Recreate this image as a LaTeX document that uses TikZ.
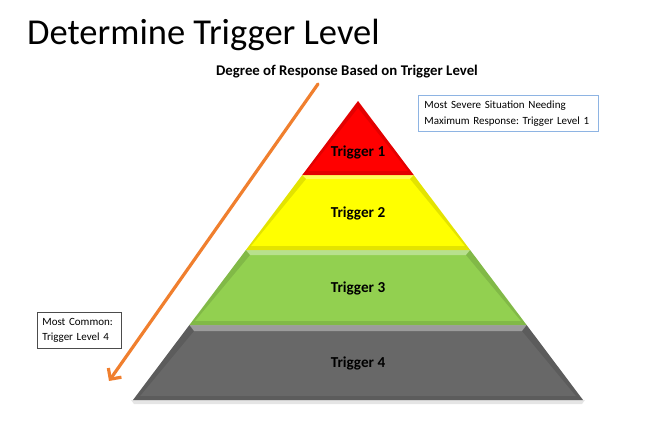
\documentclass[tikz,border=0pt]{standalone}
\usepackage{fontspec}
\setmainfont{Carlito}
\usetikzlibrary{arrows.meta}
\definecolor{tred}{HTML}{FF0000}
\definecolor{tyellow}{HTML}{FFFF00}
\definecolor{tgreen}{HTML}{92D050}
\definecolor{tgray}{HTML}{686868}
\definecolor{torange}{HTML}{F07F2E}
\definecolor{tblue}{HTML}{8EB4E3}
\frenchspacing
\tikzset{
  lbl/.style={font=\bfseries\fontsize{15.2}{16}\selectfont, text=black, inner sep=0pt},
  note/.style={draw, line width=0.9pt, fill=white, align=left, inner ysep=0pt,
     font=\fontsize{11}{15.5}\selectfont, text=black, anchor=north west},
  respArrow/.style={draw=torange, line width=3.2pt, line cap=round,
     -{Straight Barb[length=8pt,width=16pt,line width=3.2pt]}},
  darkedge/.style={fill=black, opacity=0.11},
  lightedge/.style={fill=white, opacity=0.35},
}
\begin{document}
\begin{tikzpicture}[x=1pt,y=-1pt]
\useasboundingbox (0,0) rectangle (650,431);
% title
\node[anchor=base west, inner sep=0pt, font=\fontsize{36.5}{40}\selectfont] (title) at (27,44) {Determine Trigger Level};
\node[anchor=base, inner sep=0pt, font=\bfseries\fontsize{14.8}{16}\selectfont] (sub) at (347,75) {Degree of Response Based on Trigger Level};
% shadow
\fill[black!10] (131,400) -- (585,400) -- (582,404) -- (134,404) -- cycle;
% bands
\fill[tgray] (189.4,325) -- (526.6,325) -- (583,400) -- (133,400) -- cycle;
\fill[tgreen] (245.9,250) -- (470.1,250) -- (526.6,325) -- (189.4,325) -- cycle;
\fill[tyellow] (302.3,175) -- (413.7,175) -- (470.1,250) -- (245.9,250) -- cycle;
\fill[tred] (358,101) -- (413.7,175) -- (302.3,175) -- cycle;
% bevels: top light strips
\fill[lightedge] (189.4,325) -- (526.6,325) -- (522,331) -- (194,331) -- cycle;
\fill[lightedge] (245.9,250) -- (470.1,250) -- (466,255) -- (250,255) -- cycle;
\fill[lightedge] (302.3,175) -- (413.7,175) -- (410,179) -- (306,179) -- cycle;
% bevels: dark side and bottom edges
\fill[darkedge] (194,331) -- (189.4,325) -- (133,400) -- (140,396) -- cycle;
\fill[darkedge] (522,331) -- (526.6,325) -- (583,400) -- (576,396) -- cycle;
\fill[darkedge] (133,400) -- (583,400) -- (576,396) -- (140,396) -- cycle;
\fill[darkedge] (250,255) -- (245.9,250) -- (189.4,325) -- (195,321) -- cycle;
\fill[darkedge] (466,255) -- (470.1,250) -- (526.6,325) -- (521,321) -- cycle;
\fill[darkedge] (189.4,325) -- (526.6,325) -- (521,321) -- (195,321) -- cycle;
\fill[darkedge] (306,179) -- (302.3,175) -- (245.9,250) -- (251,246) -- cycle;
\fill[darkedge] (410,179) -- (413.7,175) -- (470.1,250) -- (465,246) -- cycle;
\fill[darkedge] (245.9,250) -- (470.1,250) -- (465,246) -- (251,246) -- cycle;
\fill[darkedge] (358,101) -- (302.3,175) -- (308,171) -- (358,108) -- cycle;
\fill[darkedge] (358,101) -- (413.7,175) -- (408,171) -- (358,108) -- cycle;
\fill[darkedge] (302.3,175) -- (413.7,175) -- (408,171) -- (308,171) -- cycle;
% labels
\node[lbl] (t1) at (358,152) {Trigger 1};
\node[lbl] (t2) at (358,213) {Trigger 2};
\node[lbl] (t3) at (358,288) {Trigger 3};
\node[lbl] (t4) at (358,363) {Trigger 4};
% notes
\node[note, draw=tblue, inner xsep=6pt, minimum width=180pt, minimum height=36pt, text width=168pt] (n1) at (418,95)
  {Most Severe Situation Needing\\Maximum Response: Trigger Level 1};
\node[note, draw=black!70, line width=0.7pt, inner xsep=5pt, minimum width=84pt, minimum height=36pt, text width=74pt] (n2) at (37,312)
  {Most Common:\\Trigger Level 4};
% arrow
\coordinate (as) at (318,84);
\coordinate (ae) at (109,381);
\draw[respArrow] (as) -- (ae);
\end{tikzpicture}
\end{document}
